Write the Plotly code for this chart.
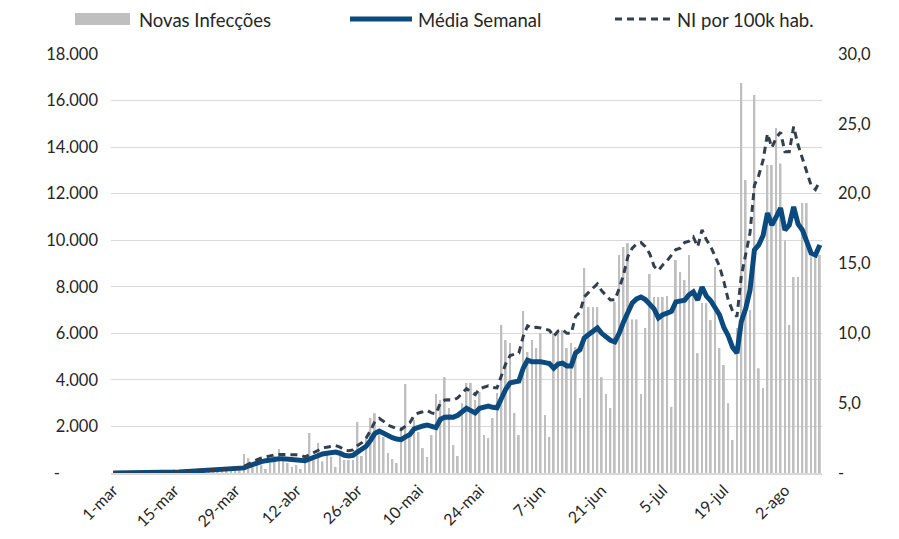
import pandas as pd
import plotly.graph_objects as go

# ---------------- data ----------------
start_date = "2020-03-01"

novas_infeccoes = [
    0, 0, 0, 1, 1, 2, 3, 5, 4, 8, 10, 12, 25, 30, 150, 60, 70, 90, 80, 100,
    120, 110, 140, 130, 160, 150, 170, 140, 190, 200,
    820, 640, 430, 500, 340, 170, 430, 730, 1030, 600, 430, 260, 340, 170, 560,
    1720, 600, 1290, 500, 900, 700,
    260, 860, 560, 560, 560, 2190, 730, 1550, 2360, 2570, 1760, 1550, 860, 600,
    430, 1980, 3820, 1550, 2280, 1760, 1070, 690, 1630, 3390, 3140, 4120, 2790,
    1200, 730,
    3000, 3870, 3870, 3140, 3480, 1630, 1500, 2360, 3440, 6360, 5710, 5590, 2580,
    1630, 6960, 5200, 5710, 5370, 6010, 2490, 1550, 6010, 6060, 6140, 5370, 5590,
    5410, 3220, 8810, 7130,
    7130, 7130, 4120, 3390, 2790, 7350, 9370, 9710, 9880, 6600, 6600, 3390, 6230,
    8550, 7560, 7560, 7560, 7600, 2840, 9150, 8630, 8290, 9370, 7780, 5150, 7300,
    7300, 6570, 8850, 5370,
    4640, 3000, 1420, 6230, 16750, 12590, 7000, 16240, 4500, 3650, 13230, 13230,
    14820, 13300, 10000, 6360, 8420, 8420, 11600, 11600, 9300, 9500, 9370,
]

media_semanal = [
    0, 0, 0, 0, 1, 1, 1, 2, 2, 3, 4, 5, 8, 12, 35, 45, 55, 65, 75, 85,
    95, 90, 100, 110, 120, 130, 140, 145, 150, 165,
    220, 300, 380, 440, 490, 530, 570, 600, 610, 610,
    600, 600, 600, 580, 530, 600, 680, 760, 820, 850,
    880, 900, 850, 760, 730, 760, 900, 1000, 1150, 1400,
    1700, 1800, 1700, 1580, 1520, 1460, 1430, 1550, 1650, 1900,
    1980, 2020, 2060, 1980, 1950, 2300, 2400, 2410, 2400, 2480,
    2620, 2780, 2680, 2580, 2780, 2830, 2870, 2820, 2800, 3200,
    3600, 3870, 3900, 3950, 4500, 4850, 4780, 4800, 4780, 4740,
    4700, 4500, 4680, 4720, 4600, 4600, 5150, 5300, 5800, 5950,
    6100, 6230, 6000, 5840, 5700,
    5630, 6000, 6490, 6900, 7300, 7480, 7560, 7450, 7250, 7050,
    6660, 6800, 6870, 6950, 7350, 7370, 7420, 7650, 7780, 7430,
    7990, 7600, 7400, 7100, 6800, 6250, 5900, 5400, 5150, 6500,
    7050, 7860, 9580, 9800, 10200, 11170, 10650, 11000, 11380, 10440,
    10650, 11430, 10700, 10440, 9880, 9450, 9370, 9800,
]

ni_por_100k = [
    0, 0, 0, 0, 0, 0, 0, 0, 0, 0.01, 0.01, 0.01, 0.02, 0.03, 0.08, 0.1, 0.12,
    0.14, 0.16, 0.19, 0.21, 0.2, 0.22, 0.24, 0.26, 0.28, 0.3, 0.31, 0.33, 0.36,
    0.48, 0.65, 0.83, 0.96, 1.07, 1.15, 1.24, 1.3, 1.33, 1.33,
    1.3, 1.3, 1.3, 1.26, 1.15, 1.3, 1.48, 1.65, 1.78, 1.85,
    1.91, 1.96, 1.85, 1.65, 1.59, 1.65, 1.96, 2.17, 2.5, 3.04,
    3.7, 3.91, 3.7, 3.43, 3.3, 3.17, 3.11, 3.37, 3.59, 4.13,
    4.3, 4.39, 4.48, 4.3, 4.24, 5.0, 5.22, 5.24, 5.22, 5.39,
    5.7, 6.04, 5.83, 5.61, 6.04, 6.15, 6.24, 6.13, 6.09, 6.96,
    7.83, 8.41, 8.48, 8.59, 9.78, 10.54, 10.39, 10.43, 10.39, 10.3,
    10.22, 9.78, 10.17, 10.26, 10.0, 10.0, 11.2, 11.52, 12.61, 12.93,
    13.26, 13.54, 13.04, 12.7, 12.39,
    12.4, 13.2, 14.2, 15.5, 16.1, 16.4, 16.5, 16.2, 15.7, 14.8,
    14.5, 14.9, 15.2, 15.6, 16.0, 16.1, 16.5, 16.6, 16.9, 16.2,
    17.4, 16.7, 16.2, 15.5, 14.8, 13.7, 12.4, 11.6, 11.2, 14.1,
    15.6, 17.2, 20.6, 21.3, 22.4, 24.3, 23.3, 24.0, 24.4, 23.0,
    23.0, 24.8, 23.5, 22.5, 21.5, 20.6, 20.3, 20.9,
]

tick_labels = ["1-mar", "15-mar", "29-mar", "12-abr", "26-abr", "10-mai",
               "24-mai", "7-jun", "21-jun", "5-jul", "19-jul", "2-ago"]
tick_step_days = 14

left_ticks = [0, 2000, 4000, 6000, 8000, 10000, 12000, 14000, 16000, 18000]
left_labels = ["-" + "\u00a0" * 9, "2.000", "4.000", "6.000", "8.000",
               "10.000", "12.000", "14.000", "16.000", "18.000"]
right_ticks = [0, 5, 10, 15, 20, 25, 30]
right_labels = ["-", "5,0", "10,0", "15,0", "20,0", "25,0", "30,0"]

series_names = ["Novas Infecções", "Média Semanal", "NI por 100k hab."]

# ---------------- figure ----------------
dates = pd.date_range(start_date, periods=len(novas_infeccoes), freq="D")
tick_dates = [dates[i] for i in range(0, len(dates), tick_step_days)][:len(tick_labels)]

# the page body adds an 8px margin: work in screen pixels, convert to figure pixels
OFF = 8
W, H = 899 - 2 * OFF, 539 - 2 * OFF
PLOT_X0, PLOT_X1, PLOT_Y0, PLOT_Y1 = 111, 822, 54, 473   # screen px of plot area
L = PLOT_X0 - OFF
R = W - (PLOT_X1 - OFF)
T = PLOT_Y0 - OFF
B = H - (PLOT_Y1 - OFF)
PW, PH = W - L - R, H - T - B

def px(x):
    return (x - OFF - L) / PW

def py(y):
    return (H - B - (y - OFF)) / PH

FONT = "Lato, Carlito, Calibri, sans-serif"
TXT = "#262626"
GRAY_BAR = "#BFBFBF"
BLUE = "#0B4A7E"
DASH = "#333F4F"
GRID = "#D9D9D9"

day_ms = 86400000
fig = go.Figure()
fig.add_trace(go.Bar(x=dates, y=novas_infeccoes, name=series_names[0],
                     marker=dict(color=GRAY_BAR, line=dict(width=0)),
                     width=0.42 * day_ms))
fig.add_trace(go.Scatter(x=dates, y=media_semanal, name=series_names[1],
                         mode="lines", line=dict(color=BLUE, width=5)))
fig.add_trace(go.Scatter(x=dates, y=ni_por_100k, name=series_names[2],
                         mode="lines", yaxis="y2",
                         line=dict(color=DASH, width=3, dash="7px,5px")))

fig.update_layout(
    template="none",
    width=W, height=H,
    margin=dict(l=L, r=R, t=T, b=B, pad=0, autoexpand=False),
    plot_bgcolor="white", paper_bgcolor="white",
    showlegend=False,
    font=dict(family=FONT, color=TXT, size=16),
    xaxis=dict(
        type="date", automargin=False,
        range=[dates[0] - pd.Timedelta(hours=12), dates[-1] + pd.Timedelta(hours=12)],
        tickmode="array", tickvals=tick_dates, ticktext=tick_labels,
        tickangle=-45, tickfont=dict(size=16, family=FONT, color=TXT),
        showgrid=False, showline=True, linecolor=GRID, linewidth=1.5,
        ticks="", zeroline=False,
    ),
    yaxis=dict(
        range=[0, 18000], tickmode="array", tickvals=left_ticks, ticktext=left_labels,
        showgrid=True, gridcolor=GRID, gridwidth=1.3, zeroline=False, automargin=False,
        showline=False, ticks="", ticklabelstandoff=12,
        tickfont=dict(size=16.5, family=FONT, color=TXT),
    ),
    yaxis2=dict(
        range=[0, 30], overlaying="y", side="right", tickmode="array",
        tickvals=right_ticks, ticktext=right_labels, showgrid=False, zeroline=False,
        showline=False, automargin=False, ticks="", ticklabelstandoff=15,
        tickfont=dict(size=16.5, family=FONT, color=TXT),
    ),
)

# ---------------- manual legend ----------------
ly = 20
shapes = [
    dict(type="rect", xref="paper", yref="paper", x0=px(75), x1=px(130),
         y0=py(25), y1=py(13), fillcolor=GRAY_BAR, line=dict(width=0)),
    dict(type="line", xref="paper", yref="paper", x0=px(350), x1=px(412),
         y0=py(ly - 1), y1=py(ly - 1), line=dict(color=BLUE, width=5)),
    dict(type="line", xref="paper", yref="paper", x0=px(615), x1=px(672),
         y0=py(ly - 1), y1=py(ly - 1), line=dict(color=DASH, width=3, dash="7px,5px")),
]
annotations = []
for name, xl in zip(series_names, [137, 416, 675]):
    annotations.append(dict(text=name, xref="paper", yref="paper", x=px(xl), y=py(ly),
                            xanchor="left", yanchor="middle", showarrow=False,
                            font=dict(size=18.5, family=FONT, color=TXT)))
fig.update_layout(shapes=shapes, annotations=annotations)

fig.write_html("out.html")
